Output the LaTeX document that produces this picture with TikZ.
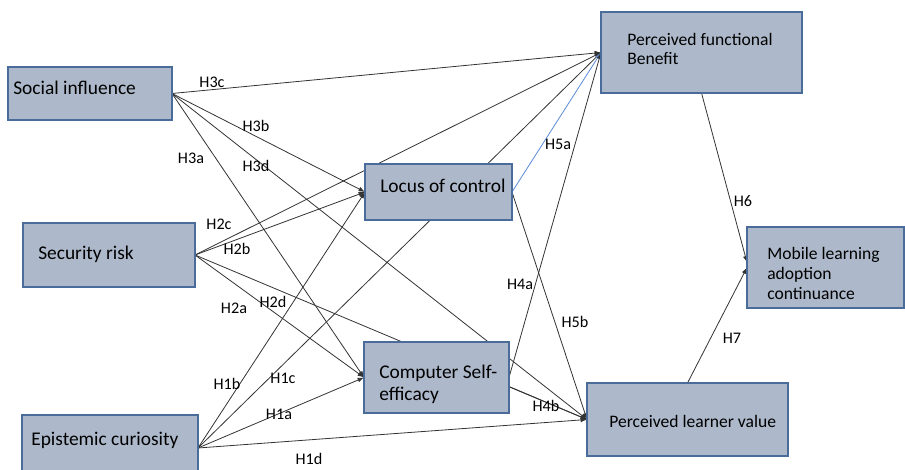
\documentclass[tikz,border=0pt]{standalone}
\usepackage{fontspec}
\setmainfont{Carlito}
\usetikzlibrary{arrows.meta,backgrounds}
\definecolor{boxfill}{HTML}{ADB9CA}
\definecolor{boxline}{HTML}{4A6C9B}
\definecolor{linkblue}{HTML}{5B8BD8}
\begin{document}
\begin{tikzpicture}[x=0.25mm,y=-0.25mm,
  >={Latex[length=1.6mm,width=1.2mm]},
  box/.style={draw=boxline, fill=boxfill, line width=0.3mm, inner sep=0pt, outer sep=0pt},
  boxtxt/.style={anchor=base west, inner sep=0pt, align=left, font=\fontsize{13.8}{15.6}\selectfont},
  boxtxtsm/.style={anchor=base west, inner sep=0pt, align=left, font=\fontsize{12.5}{14}\selectfont},
  hyp/.style={inner sep=0pt, font=\fontsize{11.5}{13}\selectfont},
  link/.style={->, draw=black!80, line width=0.2mm}]
\useasboundingbox (0,0) rectangle (905,470);
% constructs
\node[box, minimum width=41mm, minimum height=13.25mm] (si) at (90,93.5) {};
\node[box, minimum width=43mm, minimum height=16mm] (sr) at (109,255) {};
\node[box, minimum width=44mm, minimum height=16.5mm] (ec) at (110,448) {};
\node[box, minimum width=36.75mm, minimum height=14mm] (loc) at (438.5,192) {};
\node[box, minimum width=36.25mm, minimum height=17.75mm] (cse) at (436.5,377.5) {};
\node[box, minimum width=50.25mm, minimum height=20.25mm] (pfb) at (701.5,52.5) {};
\node[box, minimum width=50.25mm, minimum height=18.25mm] (plv) at (687.5,419.5) {};
\node[box, minimum width=39.25mm, minimum height=20.25mm] (mob) at (825.5,267.5) {};
% texts (multi-line ones sit on their last baseline)
\node[boxtxt] (si-txt) at (13,95) {Social influence};
\node[boxtxt] (sr-txt) at (38,260) {Security risk};
\node[boxtxt] (ec-txt) at (31,445) {Epistemic curiosity};
\node[boxtxt] (loc-txt) at (380,193) {Locus of control};
\node[boxtxt] (cse-txt) at (379,400) {Computer Self-\\efficacy};
\node[boxtxtsm] (pfb-txt) at (627,65) {Perceived functional\\Benefit};
\node[boxtxtsm] (plv-txt) at (609,427) {Perceived learner value};
\node[boxtxtsm] (mob-txt) at (767,299) {Mobile learning\\adoption\\continuance};
% paths
\begin{scope}[on background layer]
\draw[link] (si.east) -- (pfb.west);
\draw[link] (si.east) -- (loc.west);
\draw[link] (si.east) -- (cse.west);
\draw[link] (si.east) -- (plv.west);
\draw[link] (sr.east) -- (pfb.west);
\draw[link] (sr.east) -- (loc.west);
\draw[link] (sr.east) -- (cse.west);
\draw[link] (sr.east) -- (plv.west);
\draw[link] (ec.east) -- (loc.west);
\draw[link] (ec.east) -- (pfb.west);
\draw[link] (ec.east) -- (cse.west);
\draw[link] (ec.east) -- (plv.west);
\draw[link, draw=linkblue] (loc.east) -- (pfb.west);
\draw[link] (loc.east) -- (plv.west);
\draw[link] (cse.east) -- (pfb.west);
\draw[link] ([yshift=-2.25mm]cse.east) -- (plv.west);
\draw[link] (pfb.south) -- ([yshift=1.25mm]mob.west);
\draw[link] (plv.north) -- (mob.west);
\end{scope}
% hypothesis labels
\node[hyp] (h3c) at (212,82) {H3c};
\node[hyp] (h3b) at (256,126) {H3b};
\node[hyp] (h3a) at (191,158) {H3a};
\node[hyp] (h3d) at (256,166) {H3d};
\node[hyp] (h2c) at (219,224) {H2c};
\node[hyp] (h2b) at (237,249) {H2b};
\node[hyp] (h2a) at (234,308) {H2a};
\node[hyp] (h2d) at (273,302) {H2d};
\node[hyp] (h1b) at (227,384) {H1b};
\node[hyp] (h1c) at (283,378) {H1c};
\node[hyp] (h1a) at (279,414) {H1a};
\node[hyp] (h1d) at (309,459) {H1d};
\node[hyp] (h5a) at (558,144) {H5a};
\node[hyp] (h4a) at (520,284) {H4a};
\node[hyp] (h5b) at (575,322) {H5b};
\node[hyp] (h4b) at (546,406) {H4b};
\node[hyp] (h6) at (743,201) {H6};
\node[hyp] (h7) at (732,338) {H7};
\end{tikzpicture}
\end{document}
